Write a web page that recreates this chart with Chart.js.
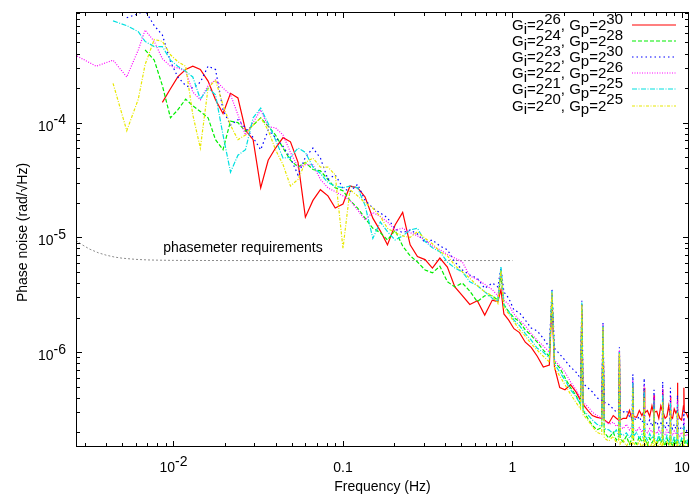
<!DOCTYPE html>
<html>
<head>
<meta charset="utf-8">
<title>Phase noise</title>
<script src="https://cdn.jsdelivr.net/npm/chart.js@4.4.1/dist/chart.umd.min.js"></script>
<style>
  html, body { margin: 0; padding: 0; background: #fff; }
</style>
</head>
<body>
<canvas id="noise" width="691" height="496"></canvas>
<script>
// Frequency bins (Hz), shared by every spectrum
const freqHz = [
  0.0027, 0.0035, 0.0044, 0.0053, 0.0062, 0.0068, 0.0077, 0.0086, 0.0096, 0.0106,
  0.0118, 0.013, 0.0144, 0.016, 0.0177, 0.0196, 0.0217, 0.024, 0.0266, 0.0295,
  0.0327, 0.0362, 0.04, 0.0443, 0.049, 0.0543, 0.06, 0.0665, 0.0736, 0.0815,
  0.09, 0.1, 0.11, 0.122, 0.135, 0.15, 0.166, 0.183, 0.203, 0.225,
  0.249, 0.275, 0.305, 0.337, 0.373, 0.413, 0.457, 0.506, 0.56, 0.62,
  0.686, 0.76, 0.82, 0.855, 0.89, 0.95, 1.02, 1.1, 1.19, 1.29,
  1.4, 1.52, 1.65, 1.71, 1.77, 1.9, 2.04, 2.2, 2.37, 2.52,
  2.565, 2.61, 2.78, 2.96, 3.15, 3.36, 3.42, 3.48, 3.7, 3.93,
  4.1, 4.23, 4.275, 4.32, 4.5, 4.7, 4.9, 5.08, 5.13, 5.18,
  5.4, 5.6, 5.8, 5.94, 5.985, 6.03, 6.25, 6.45, 6.65, 6.8,
  6.84, 6.88, 7.1, 7.3, 7.5, 7.65, 7.695, 7.74, 7.95, 8.15,
  8.35, 8.5, 8.55, 8.6, 8.8, 9.0, 9.2, 9.36, 9.405, 9.45,
  9.7, 9.95, 10.2, 10.26, 10.32, 10.6, 10.9
];

// Phase noise (rad/sqrt(Hz)) for each gain setting
const gi26gp30 = [
  null, null, null, null, null, null, null, 1.5e-4, 1.97e-4, 2.5e-4,
  2.9e-4, 3.1e-4, 2.9e-4, 2.3e-4, 1.58e-4, 1.2e-4, 1.8e-4, 1.64e-4, 8.6e-5, 7.1e-5,
  2.7e-5, 4.7e-5, 6e-5, 7.4e-5, 6.8e-5, 4.5e-5, 1.5e-5, 2.1e-5, 2.6e-5, 2.3e-5,
  1.8e-5, 1.95e-5, 2.8e-5, 2.7e-5, 2.25e-5, 1.47e-5, 1.14e-5, 8.6e-6, 1.28e-5, 1.65e-5,
  8.6e-6, 6.8e-6, 6.4e-6, 5.4e-6, 6.6e-6, 5.5e-6, 3.7e-6, 3.1e-6, 2.6e-6, 2.8e-6,
  2.1e-6, 2.84e-6, 2.75e-6, 3.5e-6, 2.15e-6, 1.9e-6, 1.6e-6, 1.48e-6, 1.22e-6, 1.1e-6,
  9.2e-7, 7.4e-7, 7.7e-7, 2.8e-6, 7.4e-7, 4.9e-7, 4.7e-7, 5.2e-7, 4.5e-7, 3.8e-7,
  2.3e-6, 3.5e-7, 3.1e-7, 2.8e-7, 2.7e-7, 2.65e-7, 1.56e-6, 2.56e-7, 2.4e-7, 2.8e-7,
  2.65e-7, 2.56e-7, 1e-6, 2.56e-7, 2.65e-7, 2.65e-7, 3.1e-7, 2.56e-7, 5.2e-7, 2.75e-7,
  2.7e-7, 3.1e-7, 2.8e-7, 3e-7, 4.9e-7, 2.95e-7, 3.1e-7, 2.75e-7, 3.4e-7, 2.95e-7,
  4.2e-7, 3e-7, 3.05e-7, 2.65e-7, 3.4e-7, 3.1e-7, 4.7e-7, 3e-7, 2.65e-7, 2.75e-7,
  3.4e-7, 2.85e-7, 4.1e-7, 2.75e-7, 2.65e-7, 3.2e-7, 2.95e-7, 3.1e-7, 5.4e-7, 3e-7,
  2.65e-7, 2.56e-7, 3.4e-7, 4.9e-7, 3e-7, 2.95e-7, 2.65e-7
];
const gi24gp28 = [
  null, null, null, null, null, 4.3e-4, 3.5e-4, 2.1e-4, 1.1e-4, 1.29e-4,
  1.6e-4, 1.4e-4, 1.25e-4, 1.1e-4, 7.1e-5, 5.8e-5, 1.03e-4, 1e-4, 8.4e-5, 9.5e-5,
  1.1e-4, 9.3e-5, 7.8e-5, 6e-5, 4.7e-5, 4.1e-5, 4.5e-5, 3.9e-5, 3.8e-5, 3.2e-5,
  2.7e-5, 2.55e-5, 2.1e-5, 1.8e-5, 1.47e-5, 1.2e-5, 1.1e-5, 9.5e-6, 1.15e-5, 8.4e-6,
  6.9e-6, 6.1e-6, 5.2e-6, 4.9e-6, 5.6e-6, 4.1e-6, 3.7e-6, 4e-6, 3.4e-6, 2.75e-6,
  3.1e-6, 3.1e-6, 2.84e-6, 4.7e-6, 2.6e-6, 2.25e-6, 2e-6, 1.84e-6, 1.56e-6, 1.4e-6,
  1.22e-6, 1.04e-6, 9.2e-7, 3.2e-6, 8.2e-7, 7.3e-7, 6e-7, 4.9e-7, 4.2e-7, 3.5e-7,
  2.6e-6, 3.1e-7, 2.65e-7, 2.3e-7, 2.1e-7, 2.2e-7, 1.6e-6, 2e-7, 1.78e-7, 2e-7,
  1.71e-7, 1.85e-7, 9.5e-7, 1.78e-7, 1.65e-7, 1.85e-7, 1.58e-7, 1.78e-7, 4.7e-7, 1.71e-7,
  1.58e-7, 1.85e-7, 1.65e-7, 1.71e-7, 4.2e-7, 1.78e-7, 1.55e-7, 1.78e-7, 1.62e-7, 1.71e-7,
  3.5e-7, 1.71e-7, 1.52e-7, 1.8e-7, 1.62e-7, 1.71e-7, 3.8e-7, 1.68e-7, 1.52e-7, 1.78e-7,
  1.58e-7, 1.71e-7, 3.1e-7, 1.65e-7, 1.5e-7, 1.71e-7, 1.55e-7, 1.71e-7, 3e-7, 1.62e-7,
  1.5e-7, 1.71e-7, 1.52e-7, 2.3e-7, 1.58e-7, 1.71e-7, 1.52e-7
];
const gi23gp30 = [
  null, null, null, 8.2e-4, 8.9e-4, 9.5e-4, 7e-4, 5.8e-4, 3.4e-4, 2.5e-4,
  2.1e-4, 2e-4, 2.25e-4, 3.1e-4, 2.9e-4, 1.29e-4, 9.5e-5, 1.06e-4, 9e-5, 7.4e-5,
  5.8e-5, 8.6e-5, 7.4e-5, 6.2e-5, 4.9e-5, 3.5e-5, 5e-5, 6e-5, 4.9e-5, 3.2e-5,
  3.5e-5, 2.7e-5, 2.5e-5, 2.9e-5, 2.1e-5, 1.8e-5, 1.63e-5, 1.48e-5, 1.18e-5, 1.1e-5,
  1.16e-5, 1.07e-5, 9e-6, 9.5e-6, 8.4e-6, 7.8e-6, 6.1e-6, 5.2e-6, 4.7e-6, 4.4e-6,
  3.6e-6, 4e-6, 3.7e-6, 5.4e-6, 3.35e-6, 2.95e-6, 2.33e-6, 2.2e-6, 1.9e-6, 1.62e-6,
  1.53e-6, 1.32e-6, 1.1e-6, 3.5e-6, 1.08e-6, 9.6e-7, 8.5e-7, 7.4e-7, 6.7e-7, 5.9e-7,
  2.8e-6, 5.3e-7, 4.9e-7, 4.5e-7, 4e-7, 3.8e-7, 1.8e-6, 3.65e-7, 3.5e-7, 3.2e-7,
  3e-7, 3.1e-7, 1.1e-6, 2.85e-7, 3e-7, 3.1e-7, 2.75e-7, 2.85e-7, 6.4e-7, 2.65e-7,
  2.56e-7, 2.75e-7, 2.45e-7, 2.56e-7, 5.9e-7, 2.5e-7, 2.35e-7, 2.56e-7, 2.25e-7, 2.45e-7,
  4.7e-7, 2.35e-7, 2.5e-7, 2.2e-7, 2.4e-7, 2.3e-7, 5.5e-7, 2.35e-7, 2.15e-7, 2.45e-7,
  2.25e-7, 2.35e-7, 4.9e-7, 2.25e-7, 2.15e-7, 2.35e-7, 2.15e-7, 2.3e-7, 4.2e-7, 2.2e-7,
  2.1e-7, 2.25e-7, 2.15e-7, 3.1e-7, 2.15e-7, 2.05e-7, 2.2e-7
];
const gi22gp26 = [
  3.8e-4, 3.1e-4, 3.5e-4, 2.5e-4, 4.3e-4, 6.4e-4, 5.1e-4, 3.6e-4, 3.1e-4, 3e-4,
  2.8e-4, 1.85e-4, 1.58e-4, 2.1e-4, 2.35e-4, 2e-4, 1.75e-4, 1.17e-4, 7.8e-5, 1e-4,
  1.29e-4, 9.2e-5, 9e-5, 7.8e-5, 5.5e-5, 4.1e-5, 4.3e-5, 4.3e-5, 3.2e-5, 2.7e-5,
  2.5e-5, 2.3e-5, 2.1e-5, 1.73e-5, 1.42e-5, 1.65e-5, 1.52e-5, 1.36e-5, 1.16e-5, 1.2e-5,
  1.1e-5, 1.03e-5, 9.5e-6, 8.4e-6, 7.8e-6, 7.1e-6, 6.6e-6, 6.1e-6, 4.6e-6, 4.3e-6,
  3.9e-6, 3.5e-6, 3.1e-6, 5e-6, 2.84e-6, 2.6e-6, 2.15e-6, 1.9e-6, 1.7e-6, 1.45e-6,
  1.27e-6, 1.13e-6, 1e-6, 3.2e-6, 8.5e-7, 7.6e-7, 6.7e-7, 5.5e-7, 4.7e-7, 4e-7,
  2.6e-6, 3.65e-7, 3.35e-7, 3e-7, 2.8e-7, 2.65e-7, 1.75e-6, 2.56e-7, 2.35e-7, 2.45e-7,
  2.25e-7, 2.35e-7, 1.04e-6, 2.25e-7, 2.15e-7, 2.35e-7, 2.1e-7, 2.25e-7, 5.7e-7, 2.15e-7,
  2.05e-7, 2.2e-7, 2e-7, 2.15e-7, 5.2e-7, 2.1e-7, 1.98e-7, 2.15e-7, 2e-7, 2.12e-7,
  4.2e-7, 2.05e-7, 1.95e-7, 2.12e-7, 1.98e-7, 2.1e-7, 4.9e-7, 2e-7, 1.92e-7, 2.1e-7,
  1.95e-7, 2.05e-7, 4.2e-7, 1.98e-7, 1.88e-7, 2.05e-7, 1.92e-7, 2e-7, 3.8e-7, 1.95e-7,
  1.85e-7, 2e-7, 1.88e-7, 2.65e-7, 1.95e-7, 1.85e-7, 1.98e-7
];
const gi21gp25 = [
  null, null, 7.7e-4, 7e-4, 6.2e-4, 5.1e-4, 4.6e-4, 4.6e-4, 3.5e-4, 3.1e-4,
  2.8e-4, 2.5e-4, 1.6e-4, 2e-4, 1.75e-4, 7.8e-5, 3.7e-5, 5.2e-5, 5.8e-5, 1.1e-4,
  1.34e-4, 9.8e-5, 7.1e-5, 4.9e-5, 5e-5, 6e-5, 5.5e-5, 4.1e-5, 3.6e-5, 3e-5,
  2.8e-5, 2.7e-5, 2.8e-5, 2.7e-5, 1.9e-5, 9.8e-6, 1.36e-5, 1.12e-5, 9.5e-6, 1.03e-5,
  1.16e-5, 1.2e-5, 9.2e-6, 8.1e-6, 7.5e-6, 6.1e-6, 5.4e-6, 5e-6, 4.1e-6, 3.8e-6,
  3.35e-6, 2.95e-6, 2.75e-6, 5.6e-6, 2.55e-6, 2.25e-6, 1.9e-6, 1.7e-6, 1.45e-6, 1.27e-6,
  1.08e-6, 1e-6, 8.9e-7, 3.4e-6, 7.9e-7, 6.7e-7, 5.7e-7, 4.7e-7, 4.1e-7, 3.5e-7,
  2.7e-6, 3.1e-7, 2.85e-7, 2.56e-7, 2.35e-7, 2.25e-7, 1.7e-6, 2.15e-7, 2.1e-7, 1.95e-7,
  2.1e-7, 1.88e-7, 1e-6, 1.95e-7, 1.88e-7, 1.98e-7, 1.78e-7, 1.95e-7, 5.4e-7, 1.85e-7,
  2e-7, 1.78e-7, 1.92e-7, 1.75e-7, 4.7e-7, 1.88e-7, 1.71e-7, 1.95e-7, 1.75e-7, 1.88e-7,
  3.8e-7, 1.78e-7, 1.65e-7, 1.92e-7, 1.71e-7, 1.85e-7, 4.2e-7, 1.75e-7, 1.65e-7, 1.88e-7,
  1.68e-7, 1.78e-7, 3.6e-7, 1.71e-7, 1.62e-7, 1.85e-7, 1.68e-7, 1.78e-7, 3.5e-7, 1.71e-7,
  1.58e-7, 1.78e-7, 1.65e-7, 2.3e-7, 1.71e-7, 1.58e-7, 1.75e-7
];
const gi20gp25 = [
  null, null, 2.2e-4, 8.5e-5, 1.6e-4, 3.2e-4, 5.3e-4, 5.1e-4, 3.9e-4, 3.4e-4,
  3.1e-4, 1.17e-4, 6e-5, 2e-4, 2.35e-4, 1.42e-4, 9.5e-5, 7.1e-5, 7.8e-5, 9.5e-5,
  1.1e-4, 8.6e-5, 5.8e-5, 4.3e-5, 2.8e-5, 3.2e-5, 4.5e-5, 4.9e-5, 4.1e-5, 4.1e-5,
  3.5e-5, 8e-6, 2.6e-5, 2.3e-5, 2e-5, 1.8e-5, 1.52e-5, 1.2e-5, 1.1e-5, 1.03e-5,
  1e-5, 1.12e-5, 9.8e-6, 8.8e-6, 7.5e-6, 6.9e-6, 5.7e-6, 5e-6, 4.4e-6, 3.8e-6,
  3.35e-6, 3.1e-6, 2.65e-6, 5.2e-6, 2.45e-6, 2.15e-6, 1.84e-6, 1.56e-6, 1.38e-6, 1.18e-6,
  1.04e-6, 9.2e-7, 8.2e-7, 3.3e-6, 7.3e-7, 6.2e-7, 5.2e-7, 4.3e-7, 3.65e-7, 3.2e-7,
  2.6e-6, 2.85e-7, 2.56e-7, 2.25e-7, 2e-7, 1.92e-7, 1.65e-6, 1.78e-7, 1.68e-7, 1.85e-7,
  1.62e-7, 1.71e-7, 9.7e-7, 1.58e-7, 1.71e-7, 1.52e-7, 1.68e-7, 1.5e-7, 4.9e-7, 1.62e-7,
  1.5e-7, 1.68e-7, 1.45e-7, 1.62e-7, 4e-7, 1.52e-7, 1.65e-7, 1.43e-7, 1.62e-7, 1.5e-7,
  3.2e-7, 1.55e-7, 1.68e-7, 1.45e-7, 1.62e-7, 1.5e-7, 3.65e-7, 1.58e-7, 1.43e-7, 1.65e-7,
  1.5e-7, 1.58e-7, 3.1e-7, 1.52e-7, 1.43e-7, 1.62e-7, 1.45e-7, 1.58e-7, 3e-7, 1.52e-7,
  1.43e-7, 1.62e-7, 1.5e-7, 2.1e-7, 1.55e-7, 1.43e-7, 1.58e-7
];

// Phasemeter requirement curve
const reqFreq  = [0.00266, 0.0029, 0.0032, 0.0036, 0.004, 0.0045, 0.005, 0.006, 0.007, 0.008, 0.01, 0.02, 0.1, 1.0];
const reqNoise = [9.4e-6, 8.6e-6, 7.9e-6, 7.34e-6, 7.0e-6, 6.73e-6, 6.58e-6, 6.43e-6, 6.36e-6, 6.33e-6, 6.3e-6, 6.28e-6, 6.28e-6, 6.28e-6];

const seriesLabels = [
  'G_i=2^26, G_p=2^30', 'G_i=2^24, G_p=2^28', 'G_i=2^23, G_p=2^30',
  'G_i=2^22, G_p=2^26', 'G_i=2^21, G_p=2^25', 'G_i=2^20, G_p=2^25'
];
const seriesValues = [gi26gp30, gi24gp28, gi23gp30, gi22gp26, gi21gp25, gi20gp25];
const seriesColors = ['#ff0000', '#00ee00', '#0000ff', '#ff00ff', '#00e0e0', '#e8e800'];
const seriesDashes = [[], [4, 2], [1.5, 3], [1, 1.5], [5, 1.5, 1, 1.5], [3, 1.5, 1, 1.5]];

const xTickValues = [0.01, 0.1, 1, 10];
const xTickText   = ['10^-2', '0.1', '1', '10'];
const yTickValues = [1e-4, 1e-5, 1e-6];
const yTickText   = ['10^-4', '10^-5', '10^-6'];

const FONT = '14px "Liberation Sans", Arial, Helvetica, sans-serif';
const LEGEND_FONT = '15px "Liberation Sans", Arial, Helvetica, sans-serif';

// split "G_i=2^26" into plain / subscript / superscript runs
function richParts(s) {
  const out = [];
  const re = /([_^])([A-Za-z0-9\-]+)/g;
  let last = 0, m;
  while ((m = re.exec(s))) {
    if (m.index > last) out.push([s.slice(last, m.index), 0]);
    out.push([m[2], m[1] === '^' ? 1 : -1]);
    last = re.lastIndex;
  }
  if (last < s.length) out.push([s.slice(last), 0]);
  return out;
}

function drawRich(ctx, s, x, y, align) {
  const parts = richParts(s);
  let w = 0;
  for (const p of parts) w += ctx.measureText(p[0]).width;
  let cx = align === 'right' ? x - w : align === 'center' ? x - w / 2 : x;
  ctx.textAlign = 'left';
  for (const p of parts) {
    const dy = p[1] > 0 ? -6.5 : p[1] < 0 ? 3.5 : 0;
    ctx.fillText(p[0], cx, y + dy);
    cx += ctx.measureText(p[0]).width;
  }
}

const datasets = seriesValues.map((vals, i) => ({
  label: seriesLabels[i],
  data: freqHz.map((f, j) => ({ x: f, y: vals[j] })),
  borderColor: seriesColors[i],
  borderDash: seriesDashes[i],
  borderWidth: 1.2,
  pointRadius: 0,
  order: seriesValues.length - i
}));
datasets.push({
  label: 'phasemeter requirements',
  data: reqFreq.map((f, j) => ({ x: f, y: reqNoise[j] })),
  borderColor: '#8c8c8c',
  borderDash: [2, 2],
  borderWidth: 1,
  pointRadius: 0,
  order: 10
});

const framePlugin = {
  id: 'gnuplotFrame',
  afterDatasetsDraw(chart) {
    const ctx = chart.ctx;
    const a = chart.chartArea;
    const xs = chart.scales.x, ys = chart.scales.y;
    ctx.save();
    ctx.strokeStyle = '#000';
    ctx.lineWidth = 1;
    ctx.setLineDash([]);

    // tick marks on all four sides, pointing inwards
    ctx.beginPath();
    for (let e = -3; e <= 1; e++) {
      for (let m = 1; m <= 9; m++) {
        const v = m * Math.pow(10, e);
        if (v <= xs.min || v >= xs.max) continue;
        const px = Math.round(xs.getPixelForValue(v)) + 0.5;
        const len = m === 1 ? 6 : 4;
        ctx.moveTo(px, a.bottom); ctx.lineTo(px, a.bottom - len);
        ctx.moveTo(px, a.top); ctx.lineTo(px, a.top + len);
      }
    }
    for (let e = -7; e <= -3; e++) {
      for (let m = 1; m <= 9; m++) {
        const v = m * Math.pow(10, e);
        if (v <= ys.min || v >= ys.max) continue;
        const py = Math.round(ys.getPixelForValue(v)) + 0.5;
        const len = m === 1 ? 6 : 4;
        ctx.moveTo(a.left, py); ctx.lineTo(a.left + len, py);
        ctx.moveTo(a.right, py); ctx.lineTo(a.right - len, py);
      }
    }
    ctx.stroke();
    ctx.strokeRect(a.left + 0.5, a.top + 0.5, a.right - a.left - 1, a.bottom - a.top - 1);

    // tick labels
    ctx.fillStyle = '#000';
    ctx.font = FONT;
    ctx.textBaseline = 'alphabetic';
    xTickValues.forEach((v, i) => drawRich(ctx, xTickText[i], xs.getPixelForValue(v), a.bottom + 25, 'center'));
    yTickValues.forEach((v, i) => drawRich(ctx, yTickText[i], a.left - 10, ys.getPixelForValue(v) + 8, 'right'));

    // axis titles
    ctx.textAlign = 'center';
    ctx.fillText('Frequency (Hz)', (a.left + a.right) / 2, 491);
    ctx.save();
    ctx.translate(27, (a.top + a.bottom) / 2 + 3);
    ctx.rotate(-Math.PI / 2);
    ctx.fillText('Phase noise (rad/\u221AHz)', 0, 0);
    ctx.restore();

    // requirement caption
    ctx.textAlign = 'left';
    ctx.fillText('phasemeter requirements', xs.getPixelForValue(0.0087), ys.getPixelForValue(7.4e-6));

    // key in the upper right corner
    ctx.font = LEGEND_FONT;
    seriesLabels.forEach((lab, i) => {
      const base = a.top + 18 + i * 16.1;
      ctx.fillStyle = '#000';
      drawRich(ctx, lab, 623, base, 'right');
      ctx.strokeStyle = seriesColors[i];
      ctx.lineWidth = 1.2;
      ctx.setLineDash(seriesDashes[i]);
      ctx.beginPath();
      ctx.moveTo(632, Math.round(base - 5));
      ctx.lineTo(676, Math.round(base - 5));
      ctx.stroke();
    });
    ctx.restore();
  }
};

new Chart(document.getElementById('noise'), {
  type: 'line',
  data: { datasets },
  options: {
    responsive: false,
    animation: false,
    devicePixelRatio: 1,
    layout: { padding: { left: 76, right: 2, top: 12, bottom: 49 } },
    scales: {
      x: { type: 'logarithmic', min: 0.00266, max: 11, display: false },
      y: { type: 'logarithmic', min: 1.49e-7, max: 9.2e-4, display: false }
    },
    plugins: { legend: { display: false }, tooltip: { enabled: false } },
    elements: { line: { tension: 0 } }
  },
  plugins: [framePlugin]
});
</script>
</body>
</html>
